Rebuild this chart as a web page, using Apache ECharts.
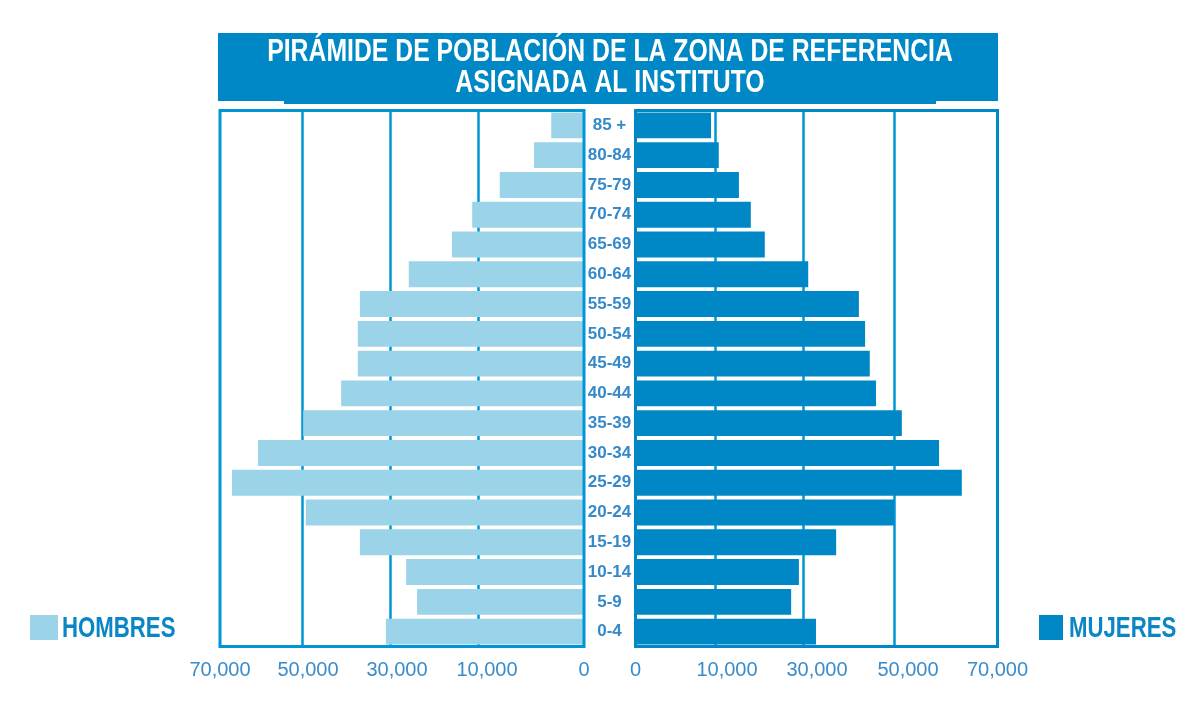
<!DOCTYPE html>
<html>
<head>
<meta charset="utf-8">
<title>Pirámide de población</title>
<script src="https://cdn.jsdelivr.net/npm/echarts@6/dist/echarts.min.js"></script>
<style>
  html, body { margin: 0; padding: 0; background: #fff; }
  #chart { width: 1195px; height: 710px; }
</style>
</head>
<body>
<div id="chart"></div>
<script>
// grupos de edad, de abajo hacia arriba
const ageGroups = ['0-4', '5-9', '10-14', '15-19', '20-24', '25-29', '30-34', '35-39', '40-44',
  '45-49', '50-54', '55-59', '60-64', '65-69', '70-74', '75-79', '80-84', '85 +']
const hombres = [38100, 32100, 34200, 43100, 53500, 67700, 62700, 54000, 46700,
  43500, 43500, 43100, 33700, 25400, 21500, 16200, 9600, 6300]
const mujeres = [34900, 30100, 31600, 38800, 50000, 63100, 58700, 51500, 46500,
  45300, 44400, 43200, 33400, 25000, 22300, 20000, 16100, 14600]

// etiquetas del eje (el original no las pone en escala lineal)
const tickLabels = ['0', '10,000', '30,000', '50,000', '70,000']
const leftLabelValues = [0, 18650, 35960, 53080, 70000]
const rightLabelValues = [0, 17690, 35100, 52690, 70000]
const leftGridValues = [20400, 37300, 54200]
const rightGridValues = [15470, 32490, 50080]

const FONT = '"Liberation Sans", Arial, sans-serif'
const C_LIGHT = '#9BD3E9'
const C_DARK = '#0088C6'
const C_LINE = '#0096D6'
const C_TEXT = '#0a86c6'

const myChart = echarts.init(document.getElementById('chart'))

function axisLabelFor (values) {
  return {
    customValues: values,
    fontFamily: FONT,
    fontSize: 20,
    color: '#3a8ccb',
    margin: 14,
    formatter: v => tickLabels[values.indexOf(v)]
  }
}

// texto estrecho (no hay fuente condensada instalada)
function narrowText (text, x, y, size, sx, sy, color, align) {
  return {
    type: 'text', x: x, y: y, scaleX: sx, scaleY: sy, z: 11,
    style: {
      text: text,
      fill: color,
      font: 'bold ' + size + 'px ' + FONT,
      textAlign: align,
      textVerticalAlign: 'middle'
    }
  }
}

const option = {
  animation: false,
  grid: [
    { left: 220, top: 110.5, width: 364, height: 536 },
    { left: 635.5, top: 110.5, width: 362, height: 536 }
  ],
  xAxis: [
    {
      gridIndex: 0,
      type: 'value',
      inverse: true,
      min: 0,
      max: 70000,
      axisLine: { show: false },
      axisTick: { show: false, customValues: leftGridValues },
      splitLine: { show: true, lineStyle: { color: C_LINE, width: 2.5 } },
      axisLabel: axisLabelFor(leftLabelValues)
    },
    {
      gridIndex: 1,
      type: 'value',
      min: 0,
      max: 70000,
      axisLine: { show: false },
      axisTick: { show: false, customValues: rightGridValues },
      splitLine: { show: true, lineStyle: { color: C_LINE, width: 2.5 } },
      axisLabel: axisLabelFor(rightLabelValues)
    }
  ],
  yAxis: [
    {
      gridIndex: 0,
      type: 'category',
      data: ageGroups,
      position: 'right',
      axisLine: { show: false },
      axisTick: { show: false },
      axisLabel: {
        align: 'center',
        margin: 25.5,
        fontFamily: FONT,
        fontWeight: 'bold',
        fontSize: 17,
        color: '#3589c9'
      }
    },
    {
      gridIndex: 1,
      type: 'category',
      data: ageGroups,
      axisLine: { show: false },
      axisTick: { show: false },
      axisLabel: { show: false }
    }
  ],
  // solo los cuadros de color; los nombres van como texto estrecho
  legend: [
    {
      data: ['HOMBRES'],
      left: 30,
      top: 615,
      padding: 0,
      icon: 'rect',
      itemWidth: 28,
      itemHeight: 25,
      selectedMode: false,
      formatter: () => ''
    },
    {
      data: ['MUJERES'],
      left: 1039,
      top: 615,
      padding: 0,
      icon: 'rect',
      itemWidth: 24,
      itemHeight: 25,
      selectedMode: false,
      formatter: () => ''
    }
  ],
  graphic: [
    { type: 'rect', shape: { x: 218, y: 33, width: 780, height: 68 }, style: { fill: C_DARK }, z: 10 },
    { type: 'rect', shape: { x: 284, y: 100, width: 652, height: 4 }, style: { fill: C_DARK }, z: 10 },
    narrowText('PIRÁMIDE DE POBLACIÓN DE LA ZONA DE REFERENCIA', 610, 52, 30, 0.826, 1.05, '#fff', 'center'),
    narrowText('ASIGNADA AL INSTITUTO', 610, 83, 30, 0.826, 1.05, '#fff', 'center'),
    narrowText('HOMBRES', 62, 629, 30, 0.74, 1, C_TEXT, 'left'),
    narrowText('MUJERES', 1069, 629, 30, 0.74, 1, C_TEXT, 'left'),
    // marcos de los dos paneles
    { type: 'rect', shape: { x: 220, y: 110.5, width: 364, height: 536 }, style: { fill: null, stroke: C_LINE, lineWidth: 3 }, z: 100 },
    { type: 'rect', shape: { x: 635.5, y: 110.5, width: 362, height: 536 }, style: { fill: null, stroke: C_DARK, lineWidth: 3 }, z: 100 }
  ],
  series: [
    {
      name: 'HOMBRES',
      type: 'bar',
      xAxisIndex: 0,
      yAxisIndex: 0,
      data: hombres,
      barCategoryGap: '13%',
      itemStyle: { color: C_LIGHT },
      silent: true
    },
    {
      name: 'MUJERES',
      type: 'bar',
      xAxisIndex: 1,
      yAxisIndex: 1,
      data: mujeres,
      barCategoryGap: '13%',
      itemStyle: { color: C_DARK },
      silent: true
    }
  ]
}

myChart.setOption(option)
</script>
</body>
</html>
